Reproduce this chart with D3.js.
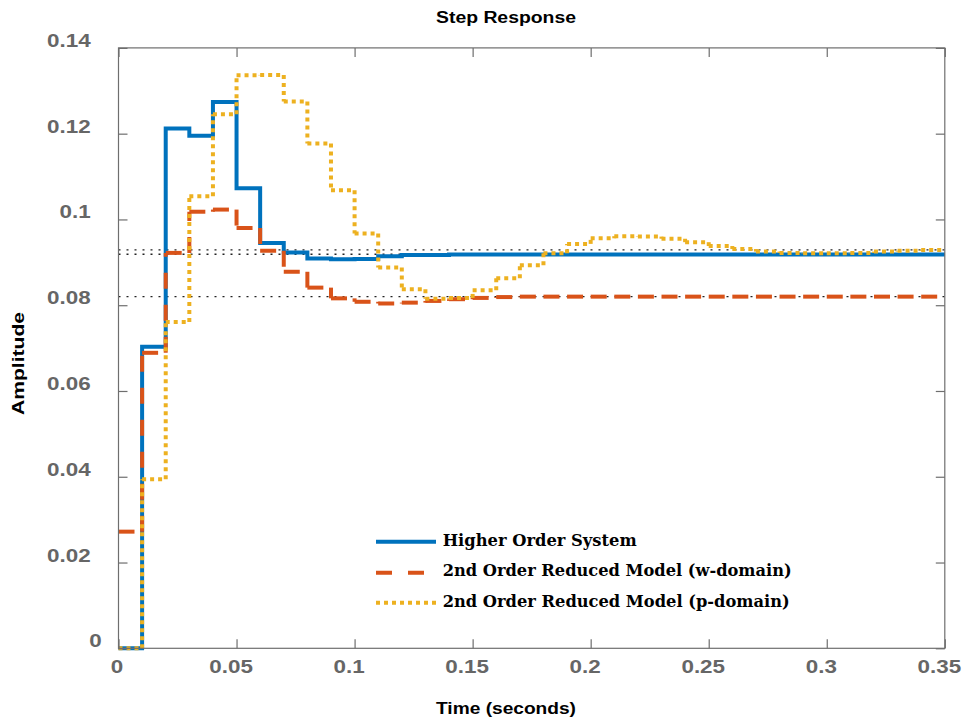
<!DOCTYPE html>
<html>
<head>
<meta charset="utf-8">
<script src="https://cdn.jsdelivr.net/npm/d3@7"></script>
<style>
	body { margin: 0; background: #fff; }
	svg { display: block; }
	.tick text { font-family: 'Liberation Sans', Arial, sans-serif; font-weight: bold; font-size: 17.5px; fill: #666; }
	.label { font-family: 'Liberation Sans', Arial, sans-serif; font-weight: bold; fill: #000; }
	.legend--text { font-family: 'DejaVu Serif', serif; font-weight: bold; font-size: 17.5px; fill: #000; }
</style>
</head>
<body>
<div id="graphic"></div>
<script>
// sample instants (Ts = 0.01 s)
const time = [0, 0.01, 0.02, 0.03, 0.04, 0.05, 0.06, 0.07, 0.08, 0.09,
	0.1, 0.11, 0.12, 0.13, 0.14, 0.15, 0.16, 0.17, 0.18, 0.19,
	0.2, 0.21, 0.22, 0.23, 0.24, 0.25, 0.26, 0.27, 0.28, 0.29,
	0.3, 0.31, 0.32, 0.33, 0.34, 0.35];

const higherOrder = [0, 0.0703, 0.1212, 0.1195, 0.1274, 0.1073, 0.0945, 0.0923, 0.0909, 0.0907,
	0.0908, 0.0914, 0.0917, 0.0917, 0.0918, 0.0918, 0.0918, 0.0918, 0.0918, 0.0918,
	0.0918, 0.0918, 0.0918, 0.0918, 0.0918, 0.0918, 0.0918, 0.0918, 0.0918, 0.0918,
	0.0918, 0.0918, 0.0918, 0.0918, 0.0918, 0.0918];

const wDomain = [0.0272, 0.0689, 0.0922, 0.1018, 0.1023, 0.0980, 0.0927, 0.0878, 0.0841, 0.0816,
	0.0808, 0.0804, 0.0806, 0.0810, 0.0814, 0.0817, 0.0819, 0.0820, 0.0820, 0.0820,
	0.0820, 0.0820, 0.0820, 0.0820, 0.0820, 0.0820, 0.0820, 0.0820, 0.0820, 0.0820,
	0.0820, 0.0820, 0.0820, 0.0820, 0.0820, 0.0820];

const pDomain = [0, 0.0394, 0.0761, 0.1054, 0.1245, 0.1336, 0.1337, 0.1275, 0.1177, 0.1068,
	0.0967, 0.0888, 0.0837, 0.0815, 0.0817, 0.0835, 0.0863, 0.0893, 0.0921, 0.0943,
	0.0956, 0.0961, 0.0960, 0.0955, 0.0947, 0.0938, 0.0931, 0.0925, 0.0922, 0.0921,
	0.0921, 0.0922, 0.0925, 0.0927, 0.0929, 0.0929];

// steady-state reference lines
const finalValues = [0.0929, 0.0919, 0.0820];

const seriesNames = ['Higher Order System', '2nd Order Reduced Model (w-domain)', '2nd Order Reduced Model (p-domain)'];
const xTicks = [0, 0.05, 0.1, 0.15, 0.2, 0.25, 0.3, 0.35];
const yTicks = [0, 0.02, 0.04, 0.06, 0.08, 0.1, 0.12, 0.14];

const colours = ['#0072BD', '#D95319', '#EDB120'];
const dashes = [null, '16,16', '4,4'];
const stretch = 1.28;

const width = 962, height = 721;
const plot = { left: 118.5, right: 944.8, top: 47.9, bottom: 648.3 };

const svg = d3.select('#graphic')
	.append('svg')
	.attr('width', width)
	.attr('height', height);

const x = d3.scaleLinear().domain([0, 0.35]).range([plot.left, plot.right]);
const y = d3.scaleLinear().domain([0, 0.14]).range([plot.bottom, plot.top]);

// dotted final value lines
svg.append('g')
	.selectAll('line')
	.data(finalValues)
	.join('line')
	.attr('x1', plot.left)
	.attr('x2', plot.right)
	.attr('y1', (d) => y(d))
	.attr('y2', (d) => y(d))
	.attr('stroke', '#222')
	.attr('stroke-width', 1.4)
	.attr('stroke-dasharray', '2,6');

// blue stairs as one path
const stairs = d3.line()
	.x((d) => x(d[0]))
	.y((d) => y(d[1]))
	.curve(d3.curveStepAfter);

svg.append('path')
	.datum(d3.zip(time, higherOrder))
	.attr('fill', 'none')
	.attr('stroke', colours[0])
	.attr('stroke-width', 4)
	.attr('d', stairs);

// dashed / dotted stairs: the pattern restarts on every segment
function stairSegments(values) {
	let segs = [];
	for (let i = 0; i < time.length - 1; i++) {
		segs.push([time[i], values[i], time[i + 1], values[i]]);
		if (values[i + 1] !== values[i]) {
			segs.push([time[i + 1], values[i], time[i + 1], values[i + 1]]);
		}
	}
	return segs;
}

[wDomain, pDomain].forEach((values, k) => {
	svg.append('g')
		.selectAll('line')
		.data(stairSegments(values))
		.join('line')
		.attr('x1', (d) => x(d[0]))
		.attr('y1', (d) => y(d[1]))
		.attr('x2', (d) => x(d[2]))
		.attr('y2', (d) => y(d[3]))
		.attr('stroke', colours[k + 1])
		.attr('stroke-width', 4)
		.attr('stroke-dasharray', dashes[k + 1]);
});

// frame
svg.append('rect')
	.attr('x', plot.left)
	.attr('y', plot.top)
	.attr('width', plot.right - plot.left)
	.attr('height', plot.bottom - plot.top)
	.attr('fill', 'none')
	.attr('stroke', '#6e6e6e')
	.attr('stroke-width', 1.2);

// widen the tick labels like the original export
function stretchText(sel, anchor, offset) {
	sel.each(function () {
		let w = this.getComputedTextLength() * stretch;
		d3.select(this)
			.attr('textLength', w)
			.attr('lengthAdjust', 'spacingAndGlyphs')
			.attr('text-anchor', 'start')
			.attr('x', anchor === 'end' ? offset - w : offset - w / 2);
	});
}

const fmt = (d) => d === 0 ? '0' : String(d);

// bottom axis
const xAxisG = svg.append('g')
	.attr('transform', 'translate(0,' + plot.bottom + ')')
	.call(d3.axisBottom(x).tickValues(xTicks).tickSize(-9).tickSizeOuter(0).tickFormat(fmt));
xAxisG.select('.domain').remove();
xAxisG.selectAll('line').attr('stroke', '#6e6e6e').attr('stroke-width', 1.2);
xAxisG.selectAll('text')
	.attr('dy', null)
	.attr('y', 25)
	.call(stretchText, 'middle', 0)
	.each(function (d) {
		let t = d3.select(this);
		t.attr('x', +t.attr('x') + (d === 0 ? -2 : -6));
	});

// left axis
const yAxisG = svg.append('g')
	.attr('transform', 'translate(' + plot.left + ',0)')
	.call(d3.axisLeft(y).tickValues(yTicks).tickSize(-9).tickSizeOuter(0).tickFormat(fmt));
yAxisG.select('.domain').remove();
yAxisG.selectAll('line').attr('stroke', '#6e6e6e').attr('stroke-width', 1.2);
yAxisG.selectAll('text')
	.attr('dy', null)
	.attr('y', -1.5)
	.each(function (d) {
		let edge = d === 0 ? -16.8 : -27.8;
		d3.select(this).call(stretchText, 'end', edge);
	});

// top and right ticks
const topG = svg.append('g')
	.attr('transform', 'translate(0,' + plot.top + ')')
	.call(d3.axisTop(x).tickValues(xTicks).tickSize(-9).tickSizeOuter(0).tickFormat(''));
topG.select('.domain').remove();
topG.selectAll('line').attr('stroke', '#6e6e6e').attr('stroke-width', 1.2);

const rightG = svg.append('g')
	.attr('transform', 'translate(' + plot.right + ',0)')
	.call(d3.axisRight(y).tickValues(yTicks).tickSize(-9).tickSizeOuter(0).tickFormat(''));
rightG.select('.domain').remove();
rightG.selectAll('line').attr('stroke', '#6e6e6e').attr('stroke-width', 1.2);

// title and axis labels
svg.append('text')
	.attr('class', 'label')
	.attr('x', 436)
	.attr('y', 23)
	.style('font-size', '16px')
	.attr('textLength', 140)
	.attr('lengthAdjust', 'spacingAndGlyphs')
	.text('Step Response');

svg.append('text')
	.attr('class', 'label')
	.attr('x', 436)
	.attr('y', 714.3)
	.style('font-size', '16.5px')
	.attr('textLength', 140)
	.attr('lengthAdjust', 'spacingAndGlyphs')
	.text('Time (seconds)');

svg.append('text')
	.attr('class', 'label')
	.attr('transform', 'translate(24,415) rotate(-90)')
	.style('font-size', '16px')
	.attr('textLength', 103)
	.attr('lengthAdjust', 'spacingAndGlyphs')
	.text('Amplitude');

// legend
const legendRows = [541.7, 572.7, 602.7];
const legendWidths = [194, 349, 347];

let legenditem = svg.append('g')
	.selectAll('g')
	.data(d3.zip(seriesNames, colours, dashes, legendRows, legendWidths))
	.join('g');

legenditem.append('line')
	.attr('x1', 376)
	.attr('x2', 436)
	.attr('y1', (d) => d[3])
	.attr('y2', (d) => d[3])
	.attr('stroke', (d) => d[1])
	.attr('stroke-width', 4)
	.attr('stroke-dasharray', (d) => d[2]);

legenditem.append('text')
	.attr('class', 'legend--text')
	.attr('x', 442.7)
	.attr('y', (d, i) => d[3] + (i === 1 ? 3.3 : 4.3))
	.attr('textLength', (d) => d[4])
	.attr('lengthAdjust', 'spacingAndGlyphs')
	.text((d) => d[0]);
</script>
</body>
</html>
